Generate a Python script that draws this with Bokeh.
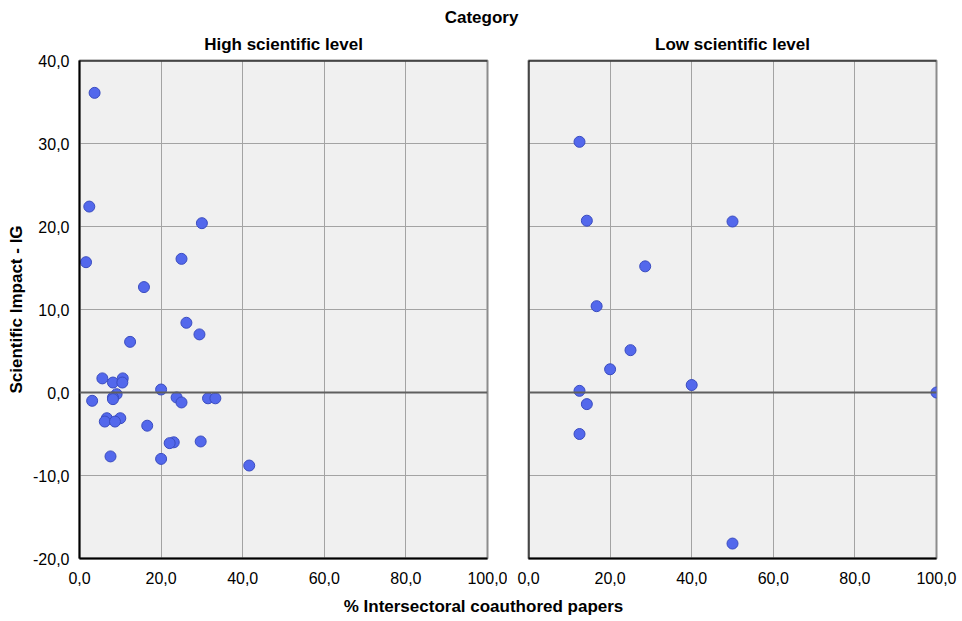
from bokeh.plotting import figure
from bokeh.models import Range1d, FixedTicker, CustomJSTickFormatter, Span, Label
from bokeh.layouts import column, row
from bokeh.embed import file_html
from bokeh.resources import INLINE

# ---- data ----
panel_titles = ["High scientific level", "Low scientific level"]
x_ticks = [0, 20, 40, 60, 80, 100]
y_ticks = [-20, -10, 0, 10, 20, 30, 40]

high_x = [3.7, 2.4, 30.0, 1.6, 25.0, 15.8, 26.2, 29.4, 12.4, 5.6, 8.2, 10.6, 10.5,
          20.0, 9.1, 8.2, 8.2, 3.1, 23.8, 25.0, 31.5, 33.3, 6.7, 10.0, 6.2, 8.7,
          16.6, 23.1, 22.1, 29.7, 7.6, 20.0, 41.6]
high_y = [36.1, 22.4, 20.4, 15.7, 16.1, 12.7, 8.4, 7.0, 6.1, 1.7, 1.2, 1.7, 1.2,
          0.36, -0.2, -0.6, -0.8, -1.0, -0.6, -1.2, -0.7, -0.7, -3.1, -3.1, -3.5, -3.5,
          -4.0, -6.0, -6.1, -5.9, -7.7, -8.0, -8.8]

low_x = [12.5, 14.3, 50.0, 28.6, 16.7, 25.0, 20.0, 40.0, 12.5, 14.3, 12.5, 50.0, 100.0]
low_y = [30.2, 20.7, 20.6, 15.2, 10.4, 5.1, 2.8, 0.9, 0.2, -1.4, -5.0, -18.2, 0.0]

FONT = "Liberation Sans"
fmt = CustomJSTickFormatter(code="return tick.toFixed(1).replace('.', ',');")

TOP_B = 34
BOT_B = 30


def panel(xs, ys, title, left, right, show_y):
    p = figure(width=left + 408 + right, height=TOP_B + 498 + BOT_B,
               x_range=Range1d(0, 100), y_range=Range1d(-20, 40),
               output_backend="svg", toolbar_location=None,
               min_border_left=left, min_border_right=right,
               min_border_top=TOP_B, min_border_bottom=BOT_B,
               background_fill_color="#f0f0f0", border_fill_color="white",
               outline_line_color="#8c8c8c", outline_line_width=2)
    p.title.text = title
    p.title.align = "center"
    p.title.text_font = FONT
    p.title.text_font_size = "17px"
    p.title.text_font_style = "bold"
    p.title.text_color = "black"
    p.title.standoff = 13

    p.xaxis.ticker = FixedTicker(ticks=x_ticks)
    p.xaxis.formatter = fmt
    p.xaxis.major_label_text_font = FONT
    p.xaxis.major_label_text_font_size = "16px"
    p.xaxis.major_label_text_color = "black"
    p.xaxis.major_tick_line_color = None
    p.xaxis.minor_tick_line_color = None
    p.xaxis.major_label_standoff = 7
    p.xaxis.axis_line_color = "black"
    p.xaxis.axis_line_width = 2

    p.yaxis.ticker = FixedTicker(ticks=y_ticks)
    p.yaxis.formatter = fmt
    p.yaxis.major_label_text_font = FONT
    p.yaxis.major_label_text_font_size = "16px"
    p.yaxis.major_label_text_color = "black"
    p.yaxis.major_tick_line_color = None
    p.yaxis.minor_tick_line_color = None
    p.yaxis.major_label_standoff = 4
    p.yaxis.axis_line_color = "black"
    p.yaxis.axis_line_width = 2
    if show_y:
        p.yaxis.axis_label = "Scientific Impact - IG"
        p.yaxis.axis_label_text_font = FONT
        p.yaxis.axis_label_text_font_size = "17px"
        p.yaxis.axis_label_text_font_style = "bold"
        p.yaxis.axis_label_text_color = "black"
        p.yaxis.axis_label_standoff = 4
    else:
        p.yaxis.visible = False
        p.add_layout(Span(location=0, dimension="height", line_color="black", line_width=2))

    p.grid.grid_line_color = "#a3a3a3"
    p.grid.grid_line_width = 1
    p.xgrid.ticker = FixedTicker(ticks=x_ticks)
    p.ygrid.ticker = FixedTicker(ticks=y_ticks)

    p.add_layout(Span(location=0, dimension="width", line_color="#5f5f5f", line_width=2))
    p.add_layout(Span(location=40, dimension="width", line_color="black", line_width=2))

    p.scatter(xs, ys, size=11, fill_color="#5368ec", line_color="#3a4cc0", line_width=1)
    return p


left = panel(high_x, high_y, panel_titles[0], 79, 20, True)
right = panel(low_x, low_y, panel_titles[1], 21, 24, False)

TOTAL_W = left.width + right.width


def text_fig(h, txt, x, y):
    f = figure(width=TOTAL_W, height=h, x_range=Range1d(0, 1), y_range=Range1d(0, 1),
               output_backend="svg", toolbar_location=None,
               min_border=0, outline_line_color=None,
               x_axis_type=None, y_axis_type=None,
               background_fill_color="white", border_fill_color="white")
    f.grid.visible = False
    f.add_layout(Label(x=x, y=y, x_units="screen", y_units="screen", text=txt,
                       text_font=FONT, text_font_size="17px", text_font_style="bold",
                       text_color="black", text_align="center", text_baseline="middle"))
    return f


top = text_fig(26, "Category", 481, 9)
bottom = text_fig(33, "% Intersectoral coauthored papers", 483, 15)

layout = column(top, row(left, right), bottom)

open("out.html", "w").write(file_html(layout, INLINE))
